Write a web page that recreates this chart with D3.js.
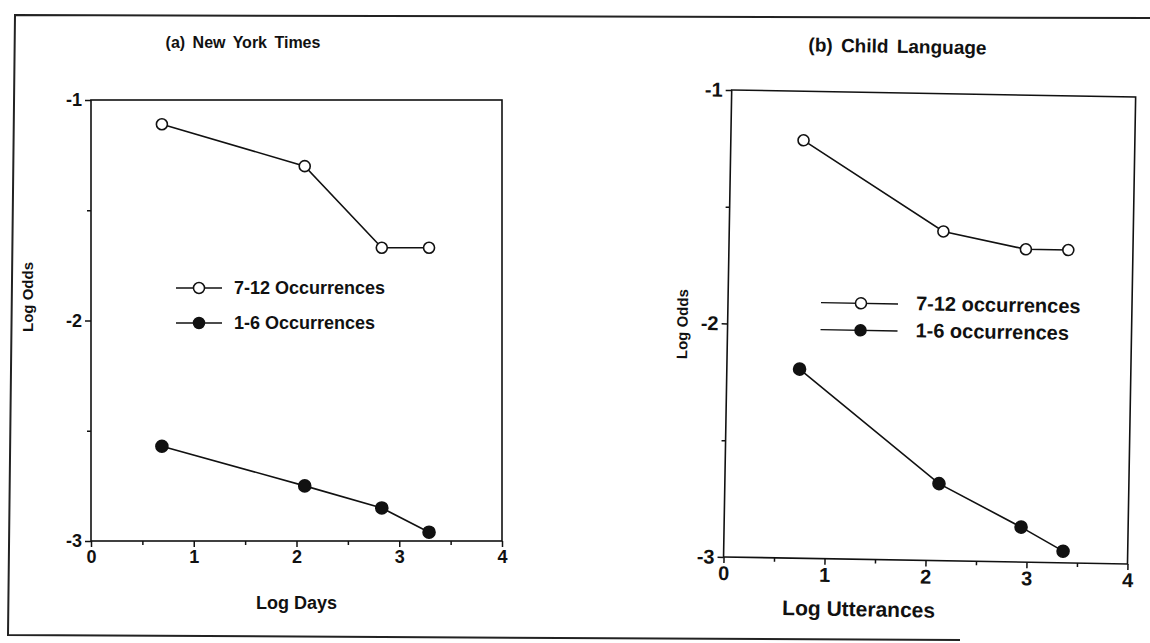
<!DOCTYPE html>
<html>
<head>
<meta charset="utf-8">
<script src="https://d3js.org/d3.v7.min.js"></script>
<style>
  body { margin: 0; background: #fff; }
  text { font-family: "Liberation Sans", Arial, sans-serif; font-weight: bold; fill: #111; }
</style>
</head>
<body>
<div id="chart"></div>
<script>
// values
var nytX = [0.69, 2.08, 2.83, 3.29];
var nytHigh = [-1.11, -1.30, -1.67, -1.67];
var nytLow = [-2.57, -2.75, -2.85, -2.96];

var childX = [0.72, 2.12, 2.94, 3.36];
var childHigh = [-1.21, -1.59, -1.66, -1.66];
var childLow = [-2.19, -2.67, -2.85, -2.95];

var xTicks = [0, 1, 2, 3, 4];
var xMinor = [0.5, 1.5, 2.5, 3.5];
var yTicks = [-1, -2, -3];
var yMinor = [-1.5, -2.5];

var nytLegend = ["7-12 Occurrences", "1-6 Occurrences"];
var childLegend = ["7-12 occurrences", "1-6 occurrences"];

var W = 1150, H = 643;

var svg = d3.select("#chart").append("svg")
    .attr("width", W)
    .attr("height", H);

// scanned outer frame (slightly skewed)
svg.append("path")
    .attr("d", "M960,640 L8,635 L15,15 L1150,18")
    .attr("fill", "none")
    .attr("stroke", "#222")
    .attr("stroke-width", 2);

// plain hyphen like the scan, not the unicode minus
var plainFmt = function(d) { return String(d); };

function drawPanel(cfg)
{
    var g = svg.append("g")
        .attr("transform", "translate(" + cfg.left + "," + cfg.top + ") rotate(" + cfg.rot + ")");

    var x = d3.scaleLinear().domain([0, 4]).range([0, cfg.width]);
    var y = d3.scaleLinear().domain([-3, -1]).range([cfg.height, 0]);

    // box
    g.append("rect")
        .attr("x", 0).attr("y", 0)
        .attr("width", cfg.width).attr("height", cfg.height)
        .attr("fill", "none")
        .attr("stroke", "#111")
        .attr("stroke-width", 1.6);

    g.append("g")
        .attr("transform", "translate(0," + cfg.height + ")")
        .call(d3.axisBottom(x).tickValues(xTicks).tickSize(6).tickPadding(3).tickFormat(plainFmt));
    g.append("g")
        .attr("transform", "translate(0," + cfg.height + ")")
        .call(d3.axisBottom(x).tickValues(xMinor).tickSize(4).tickFormat(""));

    g.append("g")
        .call(d3.axisLeft(y).tickValues(yTicks).tickSize(6).tickPadding(3).tickFormat(plainFmt));
    g.append("g")
        .call(d3.axisLeft(y).tickValues(yMinor).tickSize(4).tickFormat(""));

    g.selectAll(".domain").remove();
    g.selectAll(".tick line").attr("stroke", "#111").attr("stroke-width", 1.5);
    g.selectAll(".tick text")
        .style("font-family", "'Liberation Sans', Arial, sans-serif")
        .style("font-weight", "bold")
        .style("font-size", cfg.tickFont + "px")
        .attr("fill", "#111");

    // title
    g.append("text")
        .attr("x", cfg.titleX)
        .attr("y", cfg.titleY)
        .attr("text-anchor", "middle")
        .style("font-size", cfg.titleFont + "px")
        .style("word-spacing", "3px")
        .text(cfg.title);

    // axis titles
    g.append("text")
        .attr("x", cfg.width / 2 + cfg.xlabDx)
        .attr("y", cfg.height + cfg.xlabDy)
        .attr("text-anchor", "middle")
        .style("font-size", cfg.xlabFont + "px")
        .text(cfg.xlab);

    g.append("text")
        .attr("transform", "translate(" + cfg.ylabX + "," + cfg.ylabY + ") rotate(-90)")
        .attr("text-anchor", "middle")
        .style("font-size", "15px")
        .text("Log Odds");

    var line = d3.line()
        .x(function(d) { return x(d[0]); })
        .y(function(d) { return y(d[1]); });

    var series = [
        { vals: d3.zip(cfg.xs, cfg.high), fill: "#fff", r: 5.5 },
        { vals: d3.zip(cfg.xs, cfg.low), fill: "#111", r: 6 }
    ];

    series.forEach(function(s) {
        g.append("path")
            .datum(s.vals)
            .attr("d", line)
            .attr("fill", "none")
            .attr("stroke", "#111")
            .attr("stroke-width", 1.6);
        g.selectAll(null)
            .data(s.vals)
            .enter()
            .append("circle")
            .attr("cx", function(d) { return x(d[0]); })
            .attr("cy", function(d) { return y(d[1]); })
            .attr("r", s.r)
            .attr("fill", s.fill)
            .attr("stroke", "#111")
            .attr("stroke-width", 1.6);
    });

    // legend
    var lg = g.append("g")
        .attr("transform", "translate(" + cfg.legX + "," + cfg.legY + ")");
    cfg.legend.forEach(function(label, i) {
        var row = lg.append("g").attr("transform", "translate(0," + (i * cfg.legGap) + ")");
        row.append("line")
            .attr("x1", 0).attr("x2", cfg.legLen)
            .attr("y1", 0).attr("y2", 0)
            .attr("stroke", "#111")
            .attr("stroke-width", 1.4);
        row.append("circle")
            .attr("cx", cfg.legDot).attr("cy", 0)
            .attr("r", 5.5)
            .attr("fill", i == 0 ? "#fff" : "#111")
            .attr("stroke", "#111")
            .attr("stroke-width", 1.5);
        row.append("text")
            .attr("x", cfg.legLen + cfg.legPad)
            .attr("y", 6)
            .style("font-size", cfg.legFont + "px")
            .text(label);
    });
}

drawPanel({
    left: 91, top: 100, width: 411, height: 441, rot: 0,
    xs: nytX, high: nytHigh, low: nytLow,
    tickFont: 18, titleFont: 16, xlabFont: 18, legFont: 18,
    title: "(a) New York Times", titleX: 152, titleY: -52,
    xlab: "Log Days", xlabDx: 0, xlabDy: 68,
    ylabX: -58, ylabY: 197,
    legend: nytLegend, legX: 85, legY: 188, legLen: 46, legDot: 23, legGap: 35, legPad: 12
});

drawPanel({
    left: 731.7, top: 90, width: 404, height: 467, rot: 1,
    xs: childX, high: childHigh, low: childLow,
    tickFont: 20, titleFont: 19, xlabFont: 21, legFont: 20,
    title: "(b) Child Language", titleX: 165, titleY: -40,
    xlab: "Log Utterances", xlabDx: -66, xlabDy: 57,
    ylabX: -40, ylabY: 235,
    legend: childLegend, legX: 93, legY: 211, legLen: 77, legDot: 40, legGap: 27, legPad: 18
});
</script>
</body>
</html>
